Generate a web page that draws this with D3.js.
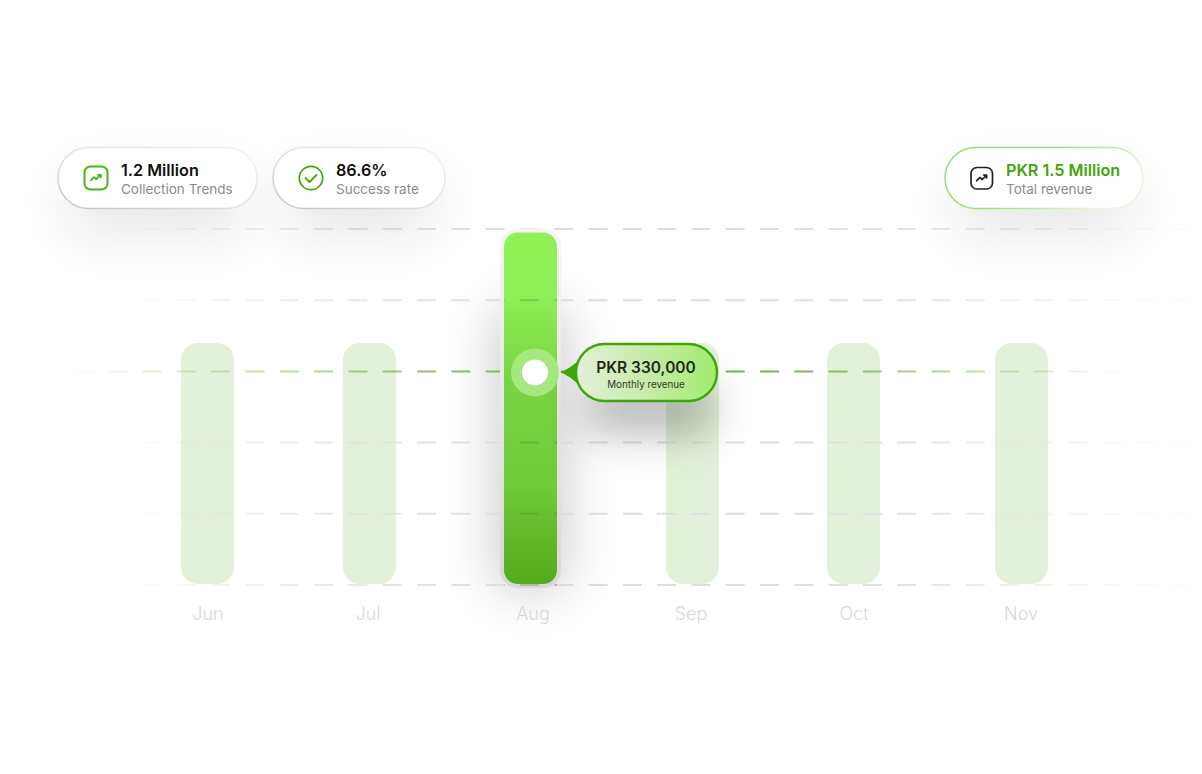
<!DOCTYPE html>
<html>
<head>
<meta charset="utf-8">
<script src="https://cdn.jsdelivr.net/npm/d3@7"></script>
<style>
  html, body { margin: 0; background: #fff; }
  svg { display: block; font-family: Inter, "Noto Sans", sans-serif; }
</style>
</head>
<body>
<div id="chart"></div>
<script>
const months = ['Jun', 'Jul', 'Aug', 'Sep', 'Oct', 'Nov'];
const revenue = [340, 340, 495, 340, 340, 340];
const gridLevels = [0, 100, 200, 300, 400, 500];
const activeMonth = 'Aug';
const activeLevel = 300;
const pillTitles = ['1.2 Million', '86.6%', 'PKR 1.5 Million'];
const pillLabels = ['Collection Trends', 'Success rate', 'Total revenue'];
const tipTitle = 'PKR 330,000';
const tipLabel = 'Monthly revenue';

const width = 1202, height = 774;
const svg = d3.select('#chart').append('svg').attr('width', width).attr('height', height);
const defs = svg.append('defs');

// the months are not quite evenly spaced in the picture
const xScale = d3.scaleOrdinal().domain(months).range([207.5, 369.5, 530.5, 692.5, 853.5, 1021.5]);
const labelScale = d3.scaleOrdinal().domain(months).range([208, 368, 533, 691, 854, 1021]);
const yScale = d3.scaleLinear().domain([0, 500]).range([585, 229]);
const barWidth = 53;

function blur(id, sd) {
  defs.append('filter').attr('id', id)
    .attr('x', '-100%').attr('y', '-100%').attr('width', '300%').attr('height', '300%')
    .append('feGaussianBlur').attr('stdDeviation', sd);
}
function gradient(id, attrs, stops) {
  const g = defs.append('linearGradient').attr('id', id);
  Object.entries(attrs).forEach(([k, v]) => g.attr(k, v));
  stops.forEach(s => g.append('stop').attr('offset', s[0]).attr('stop-color', s[1]).attr('stop-opacity', s[2] === undefined ? 1 : s[2]));
}
blur('blur-pill', 26);
blur('blur-bar', 24);
blur('blur-tip', 20);

gradient('grid-grey', { gradientUnits: 'userSpaceOnUse', x1: 115, x2: 1190, y1: 0, y2: 0 }, [
  [0, '#e0e0e0', 0], [0.2, '#e0e0e0', 0.75], [0.4, '#dcdcdc', 1], [0.72, '#e0e0e0', 1], [0.86, '#e8ecdc', 0.6], [1, '#eef4dc', 0.15]
]);
gradient('grid-green', { gradientUnits: 'userSpaceOnUse', x1: 60, x2: 1135, y1: 0, y2: 0 }, [
  [0, '#6abb3a', 0], [0.4, '#6abb3a', 0.9], [0.66, '#6abb3a', 1], [1, '#6abb3a', 0]
]);
gradient('bar-active', { x1: 0, x2: 0, y1: 0, y2: 1 }, [
  [0, '#90f156'], [0.18, '#8fef57'], [0.4, '#7ad644'], [0.72, '#6fcb38'], [1, '#54aa1b']
]);
gradient('bar-halo', { x1: 0, x2: 0, y1: 0, y2: 1 }, [
  [0, '#f6f6f6'], [0.5, '#e6e6e6'], [1, '#d8d8d8']
]);
gradient('tip-fill', { x1: 0, x2: 1, y1: 0, y2: 0 }, [
  [0, '#e2f0d9'], [0.5, '#c6eba9'], [1, '#a3ec6e']
]);
gradient('pill-grey', { x1: 0, x2: 1, y1: 1, y2: 0 }, [
  [0, '#c4c4c4'], [0.5, '#e2e2e2'], [1, '#f4f4f4']
]);
gradient('pill-green', { x1: 0, x2: 1, y1: 0, y2: 0.4 }, [
  [0, '#9bdc76'], [0.5, '#9cdc78'], [1, '#e8f7dc']
]);

// pale bars
const chart = svg.append('g').attr('class', 'bars');
const barData = months.map((m, i) => ({ month: m, value: revenue[i] }));

chart.selectAll('.bar')
  .data(barData.filter(d => d.month !== activeMonth))
  .enter().append('rect')
  .attr('class', 'bar')
  .attr('x', d => xScale(d.month) - barWidth / 2)
  .attr('y', d => yScale(d.value))
  .attr('width', barWidth)
  .attr('height', d => yScale(0) - 1 - yScale(d.value))
  .attr('rx', 17)
  .style('fill', '#e4f1da');

// soft shadow of the highlighted bar
const active = barData.find(d => d.month === activeMonth);
const activeX = xScale(activeMonth);
chart.append('rect')
  .attr('x', activeX - 40)
  .attr('y', yScale(active.value) + 70)
  .attr('width', 80)
  .attr('height', yScale(0) - yScale(active.value) - 60)
  .attr('rx', 30)
  .attr('fill', '#000').attr('opacity', 0.17)
  .attr('filter', 'url(#blur-bar)');

// grid lines go over the pale bars
const grid = svg.append('g')
  .attr('class', 'grid')
  .call(d3.axisLeft(yScale).tickValues(gridLevels).tickSize(-width).tickFormat('').offset(0));
grid.select('.domain').remove();
grid.selectAll('.tick line')
  .attr('stroke', d => d === activeLevel ? 'url(#grid-green)' : 'url(#grid-grey)')
  .attr('stroke-width', 2)
  .attr('stroke-dasharray', '19 15.3')
  .attr('stroke-dashoffset', 28.9);

// highlighted bar
const activeBar = svg.append('g').attr('class', 'active-bar');
activeBar.append('rect')
  .attr('x', activeX - barWidth / 2 - 4)
  .attr('y', yScale(active.value) - 4)
  .attr('width', barWidth + 8)
  .attr('height', yScale(0) - 1 - yScale(active.value) + 8)
  .attr('rx', 18)
  .style('fill', 'url(#bar-halo)');
activeBar.append('rect')
  .attr('x', activeX - barWidth / 2)
  .attr('y', yScale(active.value))
  .attr('width', barWidth)
  .attr('height', yScale(0) - 1 - yScale(active.value))
  .attr('rx', 14)
  .style('fill', 'url(#bar-active)');

// grid dashes stay faintly visible on the green bar
svg.append('g')
  .call(d3.axisLeft(yScale).tickValues(gridLevels.filter(d => d !== activeLevel && d < 500)).tickSize(-barWidth).tickFormat('').offset(0))
  .attr('transform', `translate(${activeX - barWidth / 2},0)`)
  .call(g => g.select('.domain').remove())
  .selectAll('.tick line')
  .attr('stroke', '#4a7a34').attr('stroke-opacity', 0.3).attr('stroke-width', 2)
  .attr('stroke-dasharray', '19 15.3').attr('stroke-dashoffset', 18.3);

// marker
const markerY = yScale(activeLevel);
svg.append('circle').attr('cx', activeX + 4.5).attr('cy', markerY + 1).attr('r', 24).attr('fill', '#a5e880');
svg.append('circle').attr('cx', activeX + 4.5).attr('cy', markerY + 1).attr('r', 13).attr('fill', '#fff');

// tooltip
const tip = svg.append('g').attr('class', 'tooltip');
tip.append('rect')
  .attr('x', 584).attr('y', 378).attr('width', 130).attr('height', 58).attr('rx', 24)
  .attr('fill', '#000').attr('opacity', 0.26).attr('filter', 'url(#blur-tip)');
tip.append('path').attr('d', 'M560 372 Q568 370 578 361 L578 384 Q568 375 560 372 Z').attr('fill', '#3fa50a');
tip.append('rect')
  .attr('x', 576).attr('y', 344).attr('width', 141).attr('height', 57).attr('rx', 28.5)
  .style('fill', 'url(#tip-fill)').attr('stroke', '#3fa50a').attr('stroke-width', 2.4);
tip.append('text').attr('x', 646).attr('y', 373).attr('text-anchor', 'middle')
  .attr('font-size', 15.5).attr('font-weight', 600).attr('fill', '#1f2a1a').text(tipTitle);
tip.append('text').attr('x', 646).attr('y', 388).attr('text-anchor', 'middle')
  .attr('font-size', 9.8).attr('fill', '#2f3a2a').text(tipLabel);

// month labels
const xAxis = svg.append('g')
  .attr('class', 'axis axis-x')
  .attr('transform', 'translate(0,600)')
  .call(d3.axisBottom(labelScale).tickSize(0).tickPadding(0).offset(0));
xAxis.select('.domain').remove();
xAxis.selectAll('text')
  .attr('dy', 20)
  .attr('font-family', 'Inter, sans-serif')
  .attr('font-size', 18).attr('font-weight', 300).attr('fill', '#d8d8d8');

// summary pills
const pillBoxes = [
  { x: 58, w: 199, stroke: 'pill-grey', titleColor: '#111', textX: 121 },
  { x: 273, w: 172, stroke: 'pill-grey', titleColor: '#111', textX: 336 },
  { x: 945, w: 198, stroke: 'pill-green', titleColor: '#3fa50a', textX: 1006 }
];
const pills = svg.append('g').attr('class', 'pills').selectAll('g')
  .data(pillBoxes).enter().append('g');
pills.append('rect')
  .attr('x', d => d.x + 6).attr('y', 172).attr('width', d => d.w - 12).attr('height', 64).attr('rx', 32)
  .attr('fill', '#000').attr('opacity', 0.09).attr('filter', 'url(#blur-pill)');
pills.append('rect')
  .attr('x', d => d.x).attr('y', 147.5).attr('width', d => d.w).attr('height', 61).attr('rx', 30.5)
  .attr('fill', '#fff').attr('stroke', d => `url(#${d.stroke})`).attr('stroke-width', 1.5);
pills.append('text')
  .attr('x', d => d.textX).attr('y', 176)
  .attr('font-size', 16.2).attr('font-weight', 600).attr('fill', d => d.titleColor)
  .text((d, i) => pillTitles[i]);
pills.append('text')
  .attr('x', d => d.textX).attr('y', 194)
  .attr('font-size', 13.5).attr('fill', '#8b8b8b')
  .text((d, i) => pillLabels[i]);

// icons
const trend = 'M-6.5 3 L-2.5 -1 L0.5 1.5 L5.5 -3.5 M2.5 -4 H6 V-0.5';
const icons = svg.append('g').attr('class', 'icons').attr('fill', 'none').attr('stroke-linecap', 'round').attr('stroke-linejoin', 'round');
icons.append('rect').attr('x', 84.5).attr('y', 166.5).attr('width', 23).attr('height', 23).attr('rx', 6)
  .attr('stroke', '#49b50f').attr('stroke-width', 2);
icons.append('path').attr('d', trend).attr('transform', 'translate(96,178) scale(.8)')
  .attr('stroke', '#49b50f').attr('stroke-width', 2.2);
icons.append('circle').attr('cx', 311).attr('cy', 178).attr('r', 11.7)
  .attr('stroke', '#3fa50a').attr('stroke-width', 1.7);
icons.append('path').attr('d', 'M305.5 178 L309.5 182 L316.5 175')
  .attr('stroke', '#3fa50a').attr('stroke-width', 1.8);
icons.append('rect').attr('x', 971).attr('y', 167.5).attr('width', 21.5).attr('height', 21.5).attr('rx', 6)
  .attr('stroke', '#222').attr('stroke-width', 1.7);
icons.append('path').attr('d', trend).attr('transform', 'translate(981.8,178.3) scale(.8)')
  .attr('stroke', '#222').attr('stroke-width', 2.2);
</script>
</body>
</html>
